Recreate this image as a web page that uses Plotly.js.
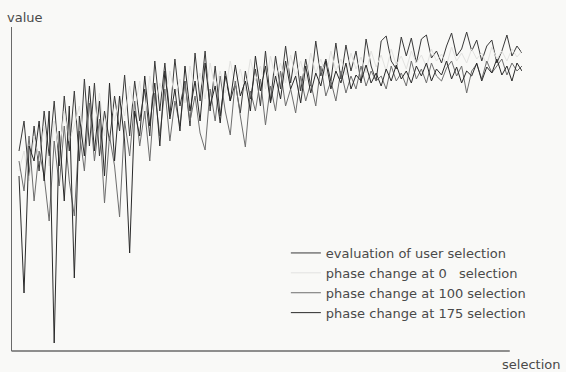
<!DOCTYPE html>
<html>
<head>
<meta charset="utf-8">
<script src="https://cdn.plot.ly/plotly-3.0.1.min.js"></script>
<style>html,body{margin:0;padding:0;background:#f9f9f7;}</style>
</head>
<body>
<div id="chart" style="width:566px;height:372px;"></div>
<script>
// selection index (x)
const selection = [0,2,4,6,8,10,12,14,16,18,20,22,24,26,28,30,32,34,36,38,
  40,42,44,46,48,50,52,54,56,58,60,62,64,66,68,70,72,74,76,78,
  80,82,84,86,88,90,92,94,96,98,100,102,104,106,108,110,112,114,116,118,
  120,122,124,126,128,130,132,134,136,138,140,142,144,146,148,150,152,154,156,158,
  160,162,164,166,168,170,172,174,176,178,180,182,184,186,188,190,192,194,196,198,200];

const seriesNames = ["evaluation of user selection", "phase change at 0\u00a0\u00a0\u00a0selection",
  "phase change at 100 selection", "phase change at 175 selection"];

const evaluationUser = [200,230,175,225,180,240,195,250,185,255, 200,260,190,272,205,268,195,240,210,255,
  220,276,215,270,230,262,215,290,240,288, 235,292,245,270,225,298,250,300,240,285,
  235,275,250,268,238,280,252,282,245,300, 250,295,262,305,268,300,260,292,265,310,
  275,292,270,308,272,306,280,300,268,312, 285,270,310,315,290,282,314,295,313,288,
  312,316,293,300,288,305,318,295,302,319, 300,311,290,305,311,288,300,316,295,305, 298];

const phase0 = [180,200,170,215,190,225,185,230,200,240,210,
  225,245,205,250,220,258,215,262,230,255,
  235,265,240,270,232,275,245,268,250,280,
  255,272,248,285,260,278,252,288,262,280,
  258,290,265,282,260,292,270,285,262,295,
  272,288,268,296,275,290,270,298,278,292,
  275,300,280,292,276,298,282,294,278,300,
  284,296,280,302,286,295,282,300,288,296,
  284,302,290,297,286,304,290,298,288,302,
  292,298,286,304,292,300,290,302,294,300];

const phase100 = [190,160,215,150,200,175,130,210,165,225, 170,135,220,180,248,190,232,148,215,185,
  134,230,195,250,205,240,190,258,215,262, 210,250,225,268,230,255,218,201,262,230,
  275,240,216,270,235,204,260,240,272,226, 265,240,280,245,262,238,275,250,268,245,
  285,255,270,250,280,258,275,262,285,265, 280,270,275,262,285,270,278,265,290,272,
  282,268,288,275,270,283,290,275,285,258, 280,287,272,290,278,285,292,276,288,280, 285];

const phase175 = [175,58,205,190,230,170,240,8,220,150, 245,73,235,195,265,200,250,175,268,190,
  255,210,98,240,215,275,225,268,205,280, 232,262,220,285,240,270,230,288,245,265,
  228,280,250,286,255,270,240,295,260,285, 248,275,252,290,262,275,248,285,258,278,
  265,290,262,280,268,288,262,276,270,286, 268,278,265,282,270,286,272,280,268,285,
  275,288,270,282,276,290,272,284,268,280, 275,288,270,284,278,292,276,285,270,288, 280];

const colors = ["#3a3a3a", "#e2e2e0", "#6e6e6e", "#2a2a2a"];
const values = [evaluationUser, phase0, phase100, phase175];

const traces = [0,1,2,3].map(k => ({
  x: selection, y: values[k], name: seriesNames[k], type: "scatter", mode: "lines",
  line: {color: colors[k], width: 1}, legendrank: k + 1
}));

const FONT = "DejaVu Sans, Liberation Sans, Arial, sans-serif";

const layout = {
  width: 566, height: 372,
  margin: {l: 12, r: 44, t: 27, b: 21, pad: 0},
  paper_bgcolor: "#f9f9f7", plot_bgcolor: "#f9f9f7",
  font: {family: FONT, color: "#4a4a4a", size: 13},
  xaxis: {range: [-2.78, 200], showgrid: false, zeroline: false, showticklabels: false, ticks: "", showline: false},
  yaxis: {range: [0, 324], showgrid: false, zeroline: false, showticklabels: false, ticks: "",
          showline: true, linecolor: "#6a6a6a", linewidth: 1.5},
  showlegend: true,
  legend: {x: 0.537, y: 0.3488, xanchor: "left", yanchor: "top", bgcolor: "rgba(0,0,0,0)",
           font: {family: FONT, size: 13, color: "#4a4a4a"}, traceorder: "normal", itemwidth: 30},
  shapes: [{type: "line", xref: "paper", yref: "paper", x0: -0.001, x1: 0.976, y0: 0, y1: 0,
            line: {color: "#6a6a6a", width: 1.5}}],
  annotations: [
    {text: "value", xref: "paper", yref: "paper", x: -0.0137, y: 1.028, xanchor: "left", yanchor: "middle",
     showarrow: false, font: {family: FONT, size: 13, color: "#4a4a4a"}},
    {text: "selection", xref: "paper", yref: "paper", x: 0.957, y: -0.043, xanchor: "left", yanchor: "middle",
     showarrow: false, font: {family: FONT, size: 13, color: "#4a4a4a"}}
  ]
};

Plotly.newPlot("chart", traces, layout, {displayModeBar: false, staticPlot: true});
</script>
</body>
</html>
